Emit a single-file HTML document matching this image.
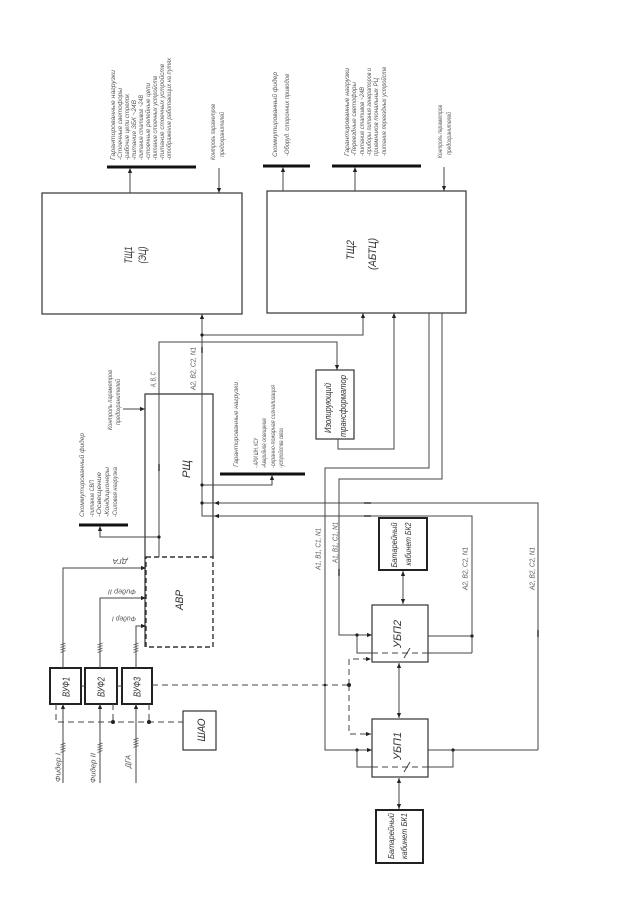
<!DOCTYPE html>
<html><head><meta charset="utf-8">
<style>
html,body{margin:0;padding:0;background:#fff;}
svg{display:block;}
text{font-family:"Liberation Sans","DejaVu Sans",sans-serif;font-style:italic;fill:#555;}
.b{fill:#333;}
</style></head>
<body>
<svg width="639" height="912" viewBox="0 0 639 912" xmlns="http://www.w3.org/2000/svg">
<defs>
<marker id="a" markerWidth="6" markerHeight="6" refX="5" refY="3" orient="auto" markerUnits="userSpaceOnUse"><path d="M0,0.9 L5,3 L0,5.1 z" fill="#222"/></marker>
<marker id="s" markerWidth="6" markerHeight="6" refX="5" refY="3" orient="auto-start-reverse" markerUnits="userSpaceOnUse"><path d="M0,0.9 L5,3 L0,5.1 z" fill="#222"/></marker>
</defs>
<rect width="639" height="912" fill="#fff"/>

<!-- main boxes -->
<g fill="none" stroke="#333" stroke-width="1.2">
<rect x="42" y="193" width="200" height="121"/>
<rect x="267" y="191" width="199" height="122"/>
<rect x="316" y="370" width="38" height="69"/>
<rect x="372" y="605" width="56" height="57"/>
<rect x="372" y="719" width="56" height="58"/>
<rect x="183" y="711" width="33" height="39"/>
<path d="M145,647 V394 H213 V557"/>
</g>
<g fill="none" stroke="#222" stroke-width="2">
<rect x="379" y="518" width="48" height="52"/>
<rect x="376" y="810" width="47" height="53"/>
<rect x="50" y="668" width="31" height="36"/>
<rect x="85" y="668" width="32" height="36"/>
<rect x="122" y="668" width="30" height="36"/>
</g>
<rect x="146" y="557" width="67" height="90" fill="none" stroke="#333" stroke-width="1.4" stroke-dasharray="5,3"/>

<!-- bars -->
<g stroke="#111" stroke-width="3">
<path d="M107,167 H196"/>
<path d="M263,166 H310"/>
<path d="M332,166 H421"/>
<path d="M220,474 H305"/>
<path d="M79,525 H128"/>
</g>

<!-- connectors -->
<g fill="none" stroke="#444" stroke-width="1">
<path d="M130,193 V168" marker-end="url(#a)"/>
<path d="M219,168 V193" marker-end="url(#a)"/>
<path d="M283,191 V167" marker-end="url(#a)"/>
<path d="M355,191 V167" marker-end="url(#a)"/>
<path d="M444,167 V191" marker-end="url(#a)"/>

<path d="M472,653 V516 H202 V314" marker-end="url(#a)"/>
<path d="M538,750 V503 H202"/>
<path d="M222,503 H214" marker-end="url(#a)"/>
<path d="M222,516 H214" marker-end="url(#a)"/>
<path d="M202,335 H363 V313" marker-end="url(#a)"/>
<path d="M159,557 V342 H337 V370" marker-end="url(#a)"/>
<path d="M159,537 H100 V526" marker-end="url(#a)"/>
<path d="M338,439 V449 H394 V313" marker-end="url(#a)"/>
<path d="M429,313 V468 H325 V750 H372" marker-end="url(#a)"/>
<path d="M442,313 V479 H339 V635 H372" marker-end="url(#a)"/>
<path d="M202,485 H272 V475" marker-end="url(#a)"/>
<path d="M123,409 H145" marker-end="url(#a)"/>

<path d="M63,783 V704" marker-end="url(#a)"/>
<path d="M100,783 V704" marker-end="url(#a)"/>
<path d="M136,783 V704" marker-end="url(#a)"/>
<path d="M63,668 V568 H146" marker-end="url(#a)"/>
<path d="M100,668 V598 H146" marker-end="url(#a)"/>
<path d="M136,668 V626 H146" marker-end="url(#a)"/>
<path d="M81,686 H85"/>
<path d="M117,686 H122"/>

<path d="M403,571 V604" marker-start="url(#s)" marker-end="url(#s)"/>
<path d="M399,663 V718" marker-start="url(#s)" marker-end="url(#s)"/>
<path d="M399,778 V809" marker-start="url(#s)" marker-end="url(#s)"/>

<path d="M357,635 V653 H372"/>
<path d="M428,653 H472"/>
<path d="M428,636 H472"/>
<path d="M357,750 V767 H372"/>
<path d="M428,767 H453 V750"/>
<path d="M428,750 H538"/>
<path d="M404,658 L410,648"/>
<path d="M404,772 L410,762"/>
</g>

<!-- dashed -->
<g fill="none" stroke="#444" stroke-width="1" stroke-dasharray="6,4">
<path d="M372,653 H428"/>
<path d="M372,767 H428"/>
<path d="M152,685 H349"/>
<path d="M349,685 V659 H371" marker-end="url(#a)"/>
<path d="M349,685 V734 H371" marker-end="url(#a)"/>
<path d="M56,704 V722 H183"/>
<path d="M113,704 V722"/>
<path d="M149,704 V722"/>
</g>

<!-- dots -->
<g fill="#222">
<circle cx="202" cy="335" r="1.6"/>
<circle cx="159" cy="537" r="1.6"/>
<circle cx="202" cy="485" r="1.6"/>
<circle cx="202" cy="503" r="1.6"/>
<circle cx="357" cy="635" r="1.6"/>
<circle cx="472" cy="636" r="1.6"/>
<circle cx="357" cy="750" r="1.6"/>
<circle cx="453" cy="750" r="1.6"/>
<circle cx="349" cy="685" r="2"/>
<circle cx="325" cy="685" r="1.3"/>
<circle cx="113" cy="722" r="2"/>
<circle cx="149" cy="722" r="2"/>
</g>

<!-- small marks -->
<g stroke="#666" stroke-width="2">
<path d="M364,503 H371"/>
<path d="M364,516 H371"/>
<path d="M159,464 V471"/>
<path d="M202,347 V353"/>
<path d="M339,569 V576"/>
<path d="M538,630 V637"/>
</g>
<g stroke="#555" stroke-width="0.8">
<path d="M60.5,645 L65.5,643 M60.5,647.5 L65.5,645.5 M60.5,650 L65.5,648 M60.5,652.5 L65.5,650.5"/>
<path d="M97.5,645 L102.5,643 M97.5,647.5 L102.5,645.5 M97.5,650 L102.5,648 M97.5,652.5 L102.5,650.5"/>
<path d="M133.5,645 L138.5,643 M133.5,647.5 L138.5,645.5 M133.5,650 L138.5,648 M133.5,652.5 L138.5,650.5"/>
<path d="M60.5,745 L65.5,743 M60.5,747.5 L65.5,745.5 M60.5,750 L65.5,748 M60.5,752.5 L65.5,750.5"/>
<path d="M97.5,745 L102.5,743 M97.5,747.5 L102.5,745.5 M97.5,750 L102.5,748 M97.5,752.5 L102.5,750.5"/>
<path d="M133.5,740 L138.5,738 M133.5,742.5 L138.5,740.5 M133.5,745 L138.5,743 M133.5,747.5 L138.5,745.5"/>
</g>

<!-- box labels -->
<g font-size="11" text-anchor="middle" class="lbl">
<text class="b" transform="translate(128,255) rotate(-90)" dy="0.35em" textLength="17" lengthAdjust="spacingAndGlyphs">ТЩ1</text>
<text class="b" transform="translate(142,255) rotate(-90)" dy="0.35em" textLength="17" lengthAdjust="spacingAndGlyphs">(ЭЦ)</text>
<text class="b" transform="translate(350,250) rotate(-90)" dy="0.35em" textLength="20" lengthAdjust="spacingAndGlyphs">ТЩ2</text>
<text class="b" transform="translate(372,254) rotate(-90)" dy="0.35em" textLength="32" lengthAdjust="spacingAndGlyphs">(АБТЦ)</text>
<text class="b" transform="translate(186,469) rotate(-90)" dy="0.35em" textLength="18" lengthAdjust="spacingAndGlyphs">РЩ</text>
<text class="b" transform="translate(179,600) rotate(-90)" dy="0.35em" textLength="20" lengthAdjust="spacingAndGlyphs">АВР</text>
<text class="b" transform="translate(201,730) rotate(-90)" dy="0.35em" textLength="23" lengthAdjust="spacingAndGlyphs">ШАО</text>
<text class="b" transform="translate(66,687) rotate(-90)" dy="0.35em" font-size="10" textLength="20" lengthAdjust="spacingAndGlyphs">ВУФ1</text>
<text class="b" transform="translate(101,687) rotate(-90)" dy="0.35em" font-size="10" textLength="20" lengthAdjust="spacingAndGlyphs">ВУФ2</text>
<text class="b" transform="translate(137,687) rotate(-90)" dy="0.35em" font-size="10" textLength="20" lengthAdjust="spacingAndGlyphs">ВУФ3</text>
<text class="b" transform="translate(397,634) rotate(-90)" dy="0.35em" textLength="28" lengthAdjust="spacingAndGlyphs">УБП2</text>
<text class="b" transform="translate(397,746) rotate(-90)" dy="0.35em" textLength="28" lengthAdjust="spacingAndGlyphs">УБП1</text>
<text class="b" transform="translate(328,408) rotate(-90)" dy="0.35em" font-size="9" textLength="50" lengthAdjust="spacingAndGlyphs">Изолирующий</text>
<text class="b" transform="translate(343,406) rotate(-90)" dy="0.35em" font-size="9" textLength="62" lengthAdjust="spacingAndGlyphs">трансформатор</text>
<text class="b" transform="translate(394,545) rotate(-90)" dy="0.35em" font-size="8.5" textLength="45" lengthAdjust="spacingAndGlyphs">Батарейный</text>
<text class="b" transform="translate(408,544) rotate(-90)" dy="0.35em" font-size="8.5" textLength="43" lengthAdjust="spacingAndGlyphs">кабинет БК2</text>
<text class="b" transform="translate(391,836) rotate(-90)" dy="0.35em" font-size="8.5" textLength="46" lengthAdjust="spacingAndGlyphs">Батарейный</text>
<text class="b" transform="translate(404,836) rotate(-90)" dy="0.35em" font-size="8.5" textLength="46" lengthAdjust="spacingAndGlyphs">кабинет БК1</text>
</g>

<!-- small rotated texts -->
<g font-size="6.5" lengthAdjust="spacingAndGlyphs">
<!-- ТЩ1 loads -->
<text transform="translate(115,160) rotate(-90)" textLength="90" lengthAdjust="spacingAndGlyphs">Гарантированные нагрузки</text>
<text transform="translate(122,160) rotate(-90)" textLength="72" lengthAdjust="spacingAndGlyphs">-Стоечные светофоры</text>
<text transform="translate(129,160) rotate(-90)" textLength="66" lengthAdjust="spacingAndGlyphs">-рабочие цепи стрелок</text>
<text transform="translate(136,160) rotate(-90)" textLength="60" lengthAdjust="spacingAndGlyphs">-питание ЗБК ~24В</text>
<text transform="translate(143,160) rotate(-90)" textLength="65" lengthAdjust="spacingAndGlyphs">-питание стативов ~24В</text>
<text transform="translate(150,160) rotate(-90)" textLength="77" lengthAdjust="spacingAndGlyphs">-стоечные релейные цепи</text>
<text transform="translate(157,160) rotate(-90)" textLength="84" lengthAdjust="spacingAndGlyphs">-питание стоечных устройств</text>
<text transform="translate(164,160) rotate(-90)" textLength="96" lengthAdjust="spacingAndGlyphs">-питание стоечных устройств</text>
<text transform="translate(171,160) rotate(-90)" textLength="102" lengthAdjust="spacingAndGlyphs">-отображение работающих на путях</text>
<text transform="translate(215,160) rotate(-90)" textLength="56" lengthAdjust="spacingAndGlyphs">Контроль параметров</text>
<text transform="translate(224,157) rotate(-90)" textLength="45" lengthAdjust="spacingAndGlyphs">предохранителей</text>

<!-- ТЩ2 -->
<text transform="translate(277,157) rotate(-90)" textLength="85" lengthAdjust="spacingAndGlyphs">Скоммутированный фидер</text>
<text transform="translate(289,156) rotate(-90)" textLength="82" lengthAdjust="spacingAndGlyphs">-Оборуд. сторонних приводов</text>
<text transform="translate(349,156) rotate(-90)" textLength="88" lengthAdjust="spacingAndGlyphs">Гарантированные нагрузки</text>
<text transform="translate(356,156) rotate(-90)" textLength="74" lengthAdjust="spacingAndGlyphs">-Переездные светофоры</text>
<text transform="translate(364,156) rotate(-90)" textLength="69" lengthAdjust="spacingAndGlyphs">-питание стативов ~24В</text>
<text transform="translate(371,156) rotate(-90)" textLength="88" lengthAdjust="spacingAndGlyphs">-приборы питания генераторов и</text>
<text transform="translate(378,156) rotate(-90)" textLength="78" lengthAdjust="spacingAndGlyphs">приемников тональных РЦ</text>
<text transform="translate(386,156) rotate(-90)" textLength="89" lengthAdjust="spacingAndGlyphs">-питание переездных устройств</text>
<text transform="translate(442,158) rotate(-90)" textLength="53" lengthAdjust="spacingAndGlyphs">Контроль параметров</text>
<text transform="translate(451,155) rotate(-90)" textLength="43" lengthAdjust="spacingAndGlyphs">предохранителей</text>

<!-- РЩ left -->
<text transform="translate(84,517) rotate(-90)" textLength="84" lengthAdjust="spacingAndGlyphs">Скоммутированный фидер</text>
<text transform="translate(94,517) rotate(-90)" textLength="37" lengthAdjust="spacingAndGlyphs">-питание СВП</text>
<text transform="translate(101,517) rotate(-90)" textLength="45" lengthAdjust="spacingAndGlyphs">-Освещение</text>
<text transform="translate(109,517) rotate(-90)" textLength="50" lengthAdjust="spacingAndGlyphs">-Кондиционеры</text>
<text transform="translate(117,517) rotate(-90)" textLength="50" lengthAdjust="spacingAndGlyphs">-Силовая нагрузка</text>
<text transform="translate(112,430) rotate(-90)" textLength="60" lengthAdjust="spacingAndGlyphs">Контроль параметров</text>
<text transform="translate(120,425) rotate(-90)" textLength="46" lengthAdjust="spacingAndGlyphs">предохранителей</text>

<!-- РЩ right -->
<text transform="translate(238,467) rotate(-90)" textLength="85" lengthAdjust="spacingAndGlyphs">Гарантированные нагрузки</text>
<text transform="translate(258,468) rotate(-90)" textLength="30" lengthAdjust="spacingAndGlyphs">- АРМ ШН, КСУ</text>
<text transform="translate(266,468) rotate(-90)" textLength="50" lengthAdjust="spacingAndGlyphs">-Аварийное освещение</text>
<text transform="translate(275,468) rotate(-90)" textLength="83" lengthAdjust="spacingAndGlyphs">-охранно-пожарная сигнализация</text>
<text transform="translate(283,468) rotate(-90)" textLength="40" lengthAdjust="spacingAndGlyphs">-устройства связи</text>
</g>

<!-- wire labels -->
<g font-size="7">
<text transform="translate(155.5,387) rotate(-90)" textLength="15" lengthAdjust="spacingAndGlyphs">A, B, C</text>
<text transform="translate(195.5,390) rotate(-90)" textLength="43" lengthAdjust="spacingAndGlyphs">A2, B2, C2, N1</text>
<text transform="translate(320.5,570) rotate(-90)" textLength="42" lengthAdjust="spacingAndGlyphs">A1, B1, C1, N1</text>
<text transform="translate(337.5,563) rotate(-90)" textLength="41" lengthAdjust="spacingAndGlyphs">A1, B1, C1, N1</text>
<text transform="translate(467.5,590) rotate(-90)" textLength="43" lengthAdjust="spacingAndGlyphs">A2, B2, C2, N1</text>
<text transform="translate(534.5,590) rotate(-90)" textLength="43" lengthAdjust="spacingAndGlyphs">A2, B2, C2, N1</text>
<text transform="translate(60.5,782) rotate(-90)" textLength="29" lengthAdjust="spacingAndGlyphs">Фидер I</text>
<text transform="translate(95.5,783) rotate(-90)" textLength="30" lengthAdjust="spacingAndGlyphs">Фидер II</text>
<text transform="translate(130.5,768) rotate(-90)" textLength="13" lengthAdjust="spacingAndGlyphs">ДГА</text>
<text transform="translate(120,561.5) rotate(180)" text-anchor="middle" dy="0.35em" textLength="15" lengthAdjust="spacingAndGlyphs">ДГА</text>
<text transform="translate(122,592) rotate(180)" text-anchor="middle" dy="0.35em" textLength="28" lengthAdjust="spacingAndGlyphs">Фидер II</text>
<text transform="translate(124,619) rotate(180)" text-anchor="middle" dy="0.35em" textLength="24" lengthAdjust="spacingAndGlyphs">Фидер I</text>
</g>
</svg>
</body></html>
